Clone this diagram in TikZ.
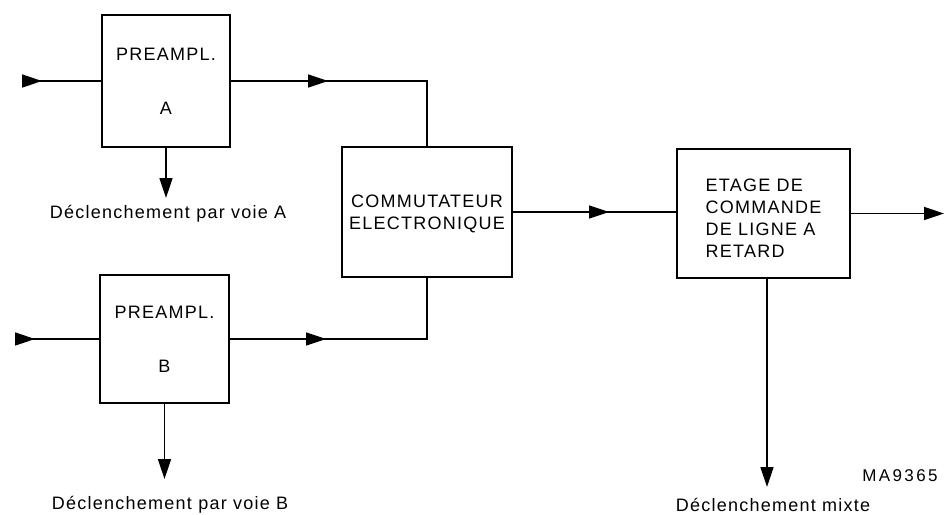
\documentclass[tikz,border=0pt]{standalone}
\usepackage{fontspec}
\setmainfont{Liberation Sans}[LetterSpace=7]
\usetikzlibrary{arrows.meta,decorations.markings}
\begin{document}
\begin{tikzpicture}[x=1pt,y=-1pt,
  every node/.style={font=\fontsize{18}{22}\selectfont},
  blockbox/.style={draw,line width=2.1pt,inner sep=0pt,anchor=center},
  conn/.style={line width=1.5pt},
  tipstyle/.style={-{Triangle[length=20pt,width=13pt]}},
  midarrow/.style={postaction={decorate,decoration={markings,
     mark=at position #1 with {\arrow{Triangle[length=20pt,width=13pt]}}}}},
  lbl/.style={anchor=base,inner sep=0pt}
]
\useasboundingbox (0,0) rectangle (944,514);

% blocks
\node[blockbox,minimum width=128pt,minimum height=132pt,align=center] (A) at (166,81) {PREAMPL.\\[32pt]A};
\node[blockbox,minimum width=129pt,minimum height=128pt,align=center] (B) at (164.5,339) {PREAMPL.\\[32pt]B};
\node[blockbox,minimum width=170pt,minimum height=130pt,align=center] (comm) at (427,212) {\rule{0pt}{17pt}COMMUTATEUR\\ELECTRONIQUE};
\node[blockbox,minimum width=173pt,minimum height=129pt,align=left] (etage) at (763.5,213.5) {\rule{0pt}{21pt}ETAGE DE\\COMMANDE\\DE LIGNE A\\RETARD};

% free ends
\coordinate (inA) at (22,81);
\coordinate (inB) at (15,339);
\coordinate (outE) at (944,213.5);
\coordinate (dA) at (166,198);
\coordinate (dB) at (164.5,479);
\coordinate (dE) at (767,487);

% labels
\node[lbl] (tA) at (168,218) {Déclenchement par voie A};
\node[lbl] (tB) at (170,509) {Déclenchement par voie B};
\node[lbl] (tE) at (773,511) {Déclenchement mixte};
\node[lbl,font=\fontsize{17}{20}\selectfont\addfontfeature{LetterSpace=14}] (ref) at (900,481) {MA9365};

% connectors
\draw[conn,midarrow=20pt] (inA) -- (A.west);
\draw[conn,midarrow=20pt] (inB) -- (B.west);
\draw[conn,midarrow=97pt] (A.east) -- (A.east -| comm.north) -- (comm.north);
\draw[conn,midarrow=96pt] (B.east) -- (B.east -| comm.south) -- (comm.south);
\draw[conn,midarrow=96pt] (comm.east) -- (comm.east -| etage.west);
\draw[conn,tipstyle] (etage.east) -- (outE);
\draw[conn,tipstyle] (A.south) -- (dA);
\draw[conn,tipstyle] (B.south) -- (dB);
\draw[conn,tipstyle] (etage.south -| dE) -- (dE);
\end{tikzpicture}
\end{document}
